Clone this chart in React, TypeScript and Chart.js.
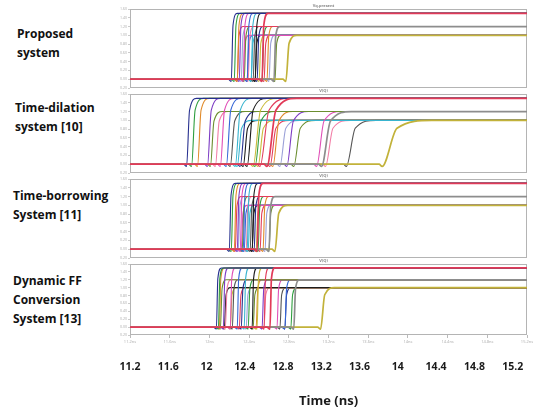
import React, { useEffect, useRef } from "react";
import { Chart, registerables } from "chart.js";

Chart.register(...registerables);

// ---------- data ----------
const X_MIN = 11.2;
const X_MAX = 15.2;
const xTickValues = [11.2, 11.6, 12, 12.4, 12.8, 13.2, 13.6, 14, 14.4, 14.8, 15.2];
const xTickLabels = ["11.2", "11.6", "12", "12.4", "12.8", "13.2", "13.6", "14", "14.4", "14.8", "15.2"];
const yTickValues = [-0.2, 0, 0.2, 0.4, 0.6, 0.8, 1.0, 1.2, 1.4, 1.6];
const yTickLabels = ["-0.20", "0.00", "0.20", "0.40", "0.60", "0.80", "1.00", "1.20", "1.40", "1.60"];

// output levels reached by the three groups of signals (top, middle, lower), and the idle level
const outputLevels = [1.5, 1.2, 1.0];
const idleLevel = 0;
const dipLevel = -0.05;

const panelNames = [
  ["Proposed", "system"],
  ["Time-dilation", "system [10]"],
  ["Time-borrowing", "System [11]"],
  ["Dynamic FF", "Conversion", "System [13]"],
];
const panelTitles = ["Vq.present", "V(Q)", "V(Q)", "V(Q)"];
const axisTitle = "Time (ns)";

// Proposed system: transition start (ns), rise time (ns), level group
const p1Start = [
  12.22, 12.25, 12.28, 12.30, 12.34, 12.38, 12.42, 12.46, 12.53,
  12.28, 12.32, 12.35, 12.39, 12.44, 12.48, 12.53, 12.58, 12.65,
  12.34, 12.38, 12.42, 12.46, 12.50, 12.55, 12.60, 12.66, 12.77,
];
const p1Rise = [
  0.06, 0.06, 0.06, 0.06, 0.06, 0.06, 0.06, 0.06, 0.06,
  0.06, 0.06, 0.06, 0.06, 0.06, 0.06, 0.06, 0.06, 0.06,
  0.06, 0.06, 0.06, 0.06, 0.06, 0.06, 0.06, 0.06, 0.11,
];
const p1Level = [
  0, 0, 0, 0, 0, 0, 0, 0, 0,
  1, 1, 1, 1, 1, 1, 1, 1, 1,
  2, 2, 2, 2, 2, 2, 2, 2, 2,
];

// Time-dilation system [10]
const p2Start = [
  11.77, 11.82, 11.88, 11.98, 12.11, 12.17, 12.26, 12.38, 12.44, 12.51, 12.58,
  12.01, 12.06, 12.21, 12.31, 12.46, 12.64, 12.78, 13.08, 13.13,
  12.28, 12.34, 12.49, 12.61, 12.71, 12.85, 13.17, 13.38, 13.74,
];
const p2Rise = [
  0.10, 0.12, 0.12, 0.13, 0.14, 0.15, 0.17, 0.20, 0.25, 0.30, 0.30,
  0.12, 0.13, 0.15, 0.17, 0.20, 0.20, 0.22, 0.25, 0.30,
  0.15, 0.15, 0.18, 0.20, 0.20, 0.22, 0.25, 0.30, 0.50,
];
const p2Level = [
  0, 0, 0, 0, 0, 0, 0, 0, 0, 0, 0,
  1, 1, 1, 1, 1, 1, 1, 1, 1,
  2, 2, 2, 2, 2, 2, 2, 2, 2,
];

// Time-borrowing System [11]
const p3Start = [
  12.20, 12.22, 12.25, 12.28, 12.31, 12.34, 12.38, 12.43, 12.48,
  12.26, 12.29, 12.33, 12.37, 12.41, 12.45, 12.49, 12.54, 12.60,
  12.32, 12.35, 12.39, 12.43, 12.47, 12.51, 12.56, 12.60, 12.66,
];
const p3Rise = [
  0.06, 0.06, 0.06, 0.06, 0.06, 0.06, 0.06, 0.06, 0.06,
  0.06, 0.06, 0.06, 0.06, 0.06, 0.06, 0.06, 0.06, 0.06,
  0.06, 0.06, 0.06, 0.06, 0.06, 0.06, 0.06, 0.06, 0.13,
];
const p3Level = [
  0, 0, 0, 0, 0, 0, 0, 0, 0,
  1, 1, 1, 1, 1, 1, 1, 1, 1,
  2, 2, 2, 2, 2, 2, 2, 2, 2,
];

// Dynamic FF Conversion System [13]
const p4Start = [
  12.07, 12.09, 12.10, 12.14, 12.21, 12.28, 12.35, 12.43, 12.48, 12.55, 12.61,
  12.11, 12.16, 12.23, 12.32, 12.39, 12.47, 12.53, 12.68, 12.76, 12.85,
  12.15, 12.21, 12.30, 12.37, 12.44, 12.55, 12.71, 12.76, 12.82, 13.12,
];
const p4Rise = [
  0.05, 0.05, 0.05, 0.05, 0.05, 0.05, 0.05, 0.05, 0.05, 0.05, 0.05,
  0.06, 0.06, 0.06, 0.06, 0.06, 0.06, 0.06, 0.06, 0.06, 0.06,
  0.06, 0.06, 0.06, 0.06, 0.06, 0.06, 0.06, 0.06, 0.06, 0.14,
];
const p4Level = [
  0, 0, 0, 0, 0, 0, 0, 0, 0, 0, 0,
  1, 1, 1, 1, 1, 1, 1, 1, 1, 1,
  2, 2, 2, 2, 2, 2, 2, 2, 2, 2,
];

const panelStarts = [p1Start, p2Start, p3Start, p4Start];
const panelRises = [p1Rise, p2Rise, p3Rise, p4Rise];
const panelLevels = [p1Level, p2Level, p3Level, p4Level];

// ---------- styles ----------
const levelColors = ["#e23a58", "#8d8d8d", "#c2b23a"];
const palette = [
  "#27308f", "#2f9e3f", "#e08a2a", "#7d3cc4", "#e04fb7", "#3566d6", "#38b4cf",
  "#1d1d1d", "#c9bb3a", "#e23d5c", "#9aa0d8", "#6b8e2f", "#f27da6", "#555555",
];
const FONT = "'Open Sans', 'DejaVu Sans', sans-serif";
const frameTops = [9, 94, 179, 264];
const FRAME_H = 79;
const TITLE_H = 6;

const framePlugin = {
  id: "panelFrame",
  beforeDatasetsDraw(chart: any) {
    const { ctx, chartArea: a } = chart;
    ctx.save();
    ctx.strokeStyle = "#b4b4b4";
    ctx.lineWidth = 1;
    ctx.strokeRect(Math.round(a.left) + 0.5, Math.round(a.top) + 0.5, Math.round(a.right - a.left) - 1, Math.round(a.bottom - a.top) - 1);
    ctx.restore();
  },
};

function buildDatasets(start: number[], rise: number[], level: number[]) {
  const keyIdx: Record<number, number> = {};
  start.forEach((s, i) => {
    const k = keyIdx[level[i]];
    if (k === undefined || start[k] <= s) keyIdx[level[i]] = i;
  });
  return start.map((s, i) => {
    const L = outputLevels[level[i]];
    const isKey = keyIdx[level[i]] === i;
    const color = isKey ? levelColors[level[i]] : palette[i % palette.length];
    return {
      data: [
        { x: X_MIN, y: idleLevel },
        { x: s - 0.03, y: idleLevel },
        { x: s, y: dipLevel },
        { x: s + rise[i] * 0.3, y: L * 0.82 },
        { x: s + rise[i], y: L },
        { x: X_MAX, y: L },
      ],
      borderColor: color,
      borderWidth: isKey ? 1.7 : 1.1,
      pointRadius: 0,
      fill: false,
      cubicInterpolationMode: "monotone" as const,
      order: isKey ? level[i] : 5,
    };
  });
}

function Panel({ index }: { index: number }) {
  const ref = useRef<HTMLCanvasElement | null>(null);
  const last = index === 3;
  const top = frameTops[index] - TITLE_H;
  const height = last ? 412 - top : TITLE_H + FRAME_H + 1;

  useEffect(() => {
    if (!ref.current) return;
    const zeroH = (s: any) => { s.paddingLeft = 0; s.paddingRight = 0; };
    const scales: any = {
      x: {
        type: "linear",
        min: X_MIN,
        max: X_MAX,
        display: last,
        afterBuildTicks: (ax: any) => { ax.ticks = xTickValues.map((v) => ({ value: v })); },
        ticks: {
          font: { size: 4, family: FONT },
          color: "#aaaaaa",
          padding: 1,
          maxRotation: 0,
          autoSkip: false,
          callback: (_v: any, i: number) => xTickLabels[i] + "ns",
        },
        grid: { display: true, drawOnChartArea: false, tickLength: 3, color: "#bbbbbb" },
        border: { display: false },
        afterFit: zeroH,
      },
      y: {
        type: "linear",
        min: -0.2,
        max: 1.6,
        afterBuildTicks: (ax: any) => { ax.ticks = yTickValues.map((v) => ({ value: v })); },
        ticks: {
          font: { size: 3.5, family: FONT },
          color: "#aaaaaa",
          padding: 1,
          callback: (_v: any, i: number) => yTickLabels[i],
        },
        grid: { display: true, drawOnChartArea: false, tickLength: 2, color: "#cccccc" },
        border: { display: false },
        afterFit: (s: any) => { s.width = 10; s.paddingTop = 0; s.paddingBottom = 0; },
      },
    };
    if (last) {
      scales.x2 = {
        type: "linear",
        position: "bottom",
        min: X_MIN,
        max: 15.35,
        afterBuildTicks: (ax: any) => { ax.ticks = xTickValues.map((v) => ({ value: v })); },
        ticks: {
          font: { size: 10.5, weight: "bold", family: FONT },
          color: "#1a1a1a",
          padding: 8,
          maxRotation: 0,
          autoSkip: false,
          callback: (_v: any, i: number) => xTickLabels[i],
        },
        grid: { display: false },
        border: { display: false },
        title: {
          display: true,
          text: axisTitle,
          font: { size: 13, weight: "bold", family: FONT },
          color: "#1a1a1a",
          padding: { top: 12, bottom: 2 },
        },
        afterFit: zeroH,
      };
    }
    const chart = new Chart(ref.current, {
      type: "line",
      data: { datasets: buildDatasets(panelStarts[index], panelRises[index], panelLevels[index]) as any },
      options: {
        responsive: false,
        animation: false,
        events: [],
        layout: { padding: { left: 120, right: 9, top: 0, bottom: 1 } },
        scales,
        plugins: {
          legend: { display: false },
          tooltip: { enabled: false },
          title: {
            display: true,
            text: panelTitles[index],
            font: { size: 4, lineHeight: 1, family: FONT },
            color: "#888888",
            padding: { top: 1, bottom: 1 },
          },
        },
      } as any,
      plugins: [framePlugin],
    });
    return () => chart.destroy();
  }, [index]);

  return (
    <canvas
      ref={ref}
      width={536}
      height={height}
      style={{ position: "absolute", left: 0, top, width: 536, height }}
    />
  );
}

const labelTops = [23.5, 97.5, 185.5, 271];
const labelLefts = [17, 15, 13, 13];

export default function App() {
  return (
    <div style={{ position: "absolute", left: 0, top: 0, width: 536, height: 412, background: "#ffffff", overflow: "hidden" }}>
      {panelNames.map((lines, i) => (
        <div
          key={"l" + i}
          style={{
            position: "absolute",
            left: labelLefts[i],
            top: labelTops[i],
            fontFamily: FONT,
            fontWeight: 700,
            fontSize: 12,
            lineHeight: "19px",
            color: "#111111",
            whiteSpace: "nowrap",
          }}
        >
          {lines.map((t, j) => (
            <div key={j}>{t}</div>
          ))}
        </div>
      ))}
      {[0, 1, 2, 3].map((i) => (
        <Panel key={i} index={i} />
      ))}
    </div>
  );
}
